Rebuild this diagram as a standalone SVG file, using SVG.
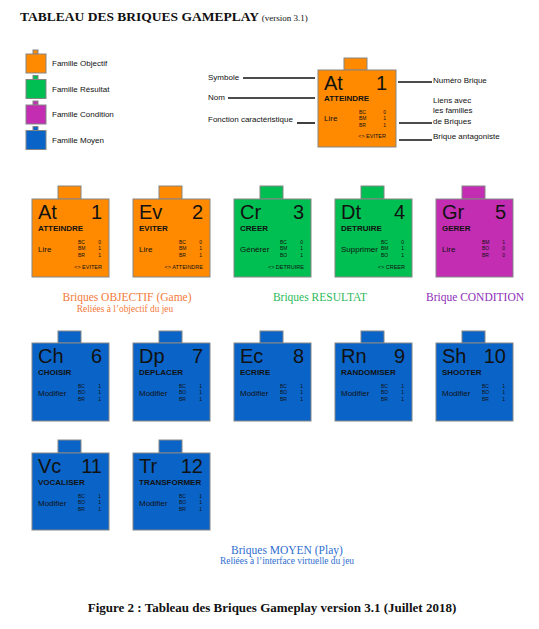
<svg xmlns="http://www.w3.org/2000/svg" width="539" height="629" viewBox="0 0 539 629">
<style>
.o{fill:#FF8A00}.g{fill:#00BF52}.m{fill:#C22DB2}.b{fill:#0A64C8}
.bd{stroke:#858585;stroke-width:1}
text{font-family:"Liberation Sans",Arial,sans-serif;fill:#111}
.sym{font-size:20px}
.num{font-size:20px;text-anchor:end}
.name{font-size:8px;font-weight:bold}
.fn{font-size:8px}
.lk{font-size:5px}
.lv{font-size:5px;text-anchor:end}
.ant{font-size:5.5px;text-anchor:end}
.leg{font-size:8px}
.lab{font-size:8px}
.ser{font-family:"Liberation Serif","Times New Roman",serif}
.ln{stroke:#111;stroke-width:1.6}
</style>
<rect width="539" height="629" fill="#fff"/>
<text class="ser" x="20" y="21" font-size="13.5" font-weight="bold">TABLEAU DES BRIQUES GAMEPLAY <tspan font-size="9" font-weight="normal">(version 3.1)</tspan></text>

<g id="legend">
<g id="leg-objectif"><rect class="o bd" x="33" y="50" width="5" height="4"/><rect class="o bd" x="26" y="54" width="20" height="19"/><text class="leg" x="52" y="66">Famille Objectif</text></g>
<g id="leg-resultat"><rect class="g bd" x="33" y="75.5" width="5" height="4"/><rect class="g bd" x="26" y="79.5" width="20" height="19"/><text class="leg" x="52" y="91.5">Famille Résultat</text></g>
<g id="leg-condition"><rect class="m bd" x="33" y="101" width="5" height="4"/><rect class="m bd" x="26" y="105" width="20" height="19"/><text class="leg" x="52" y="117">Famille Condition</text></g>
<g id="leg-moyen"><rect class="b bd" x="33" y="126.5" width="5" height="4"/><rect class="b bd" x="26" y="130.5" width="20" height="19"/><text class="leg" x="52" y="142.5">Famille Moyen</text></g>
</g>

<g id="example" transform="translate(318,70)">
<rect class="o bd" x="26" y="-12" width="23" height="12"/>
<rect class="o bd" x="0" y="0" width="78" height="77"/>
<text class="sym" x="6" y="20">At</text><text class="num" x="69" y="20">1</text>
<text class="name" x="6" y="31">ATTEINDRE</text>
<text class="fn" x="6" y="51">Lire</text>
<text class="lk" x="41" y="44">BC</text><text class="lk" x="41" y="50">BM</text><text class="lk" x="41" y="57">BR</text>
<text class="lv" x="68" y="44">0</text><text class="lv" x="68" y="50">1</text><text class="lv" x="68" y="57">1</text>
<text class="ant" x="68" y="68">&lt;&gt; EVITER</text>
</g>

<g id="connectors">
<line class="ln" x1="243" y1="78" x2="315" y2="78"/>
<line class="ln" x1="228" y1="98" x2="315" y2="98"/>
<line class="ln" x1="297" y1="123" x2="315" y2="123"/>
<line class="ln" x1="398" y1="82" x2="432" y2="82"/>
<line class="ln" x1="399" y1="123" x2="432" y2="123"/>
<line class="ln" x1="399" y1="140" x2="432" y2="140"/>
</g>
<g id="example-labels">
<text class="lab" x="208" y="80">Symbole</text>
<text class="lab" x="208" y="100">Nom</text>
<text class="lab" x="208" y="122">Fonction caractéristique</text>
<text class="lab" x="433" y="83">Numéro Brique</text>
<text class="lab" x="433" y="102.5">Liens avec</text>
<text class="lab" x="433" y="113">les familles</text>
<text class="lab" x="433" y="123.5">de Briques</text>
<text class="lab" x="433" y="139">Brique antagoniste</text>
</g>

<g id="brick-at" transform="translate(32,199)">
<rect class="o bd" x="26" y="-13" width="23" height="13"/><rect class="o bd" x="0" y="0" width="77" height="78"/>
<text class="sym" x="6" y="20">At</text><text class="num" x="70" y="20">1</text>
<text class="name" x="6" y="32">ATTEINDRE</text><text class="fn" x="6" y="53">Lire</text>
<text class="lk" x="46" y="45">BC</text><text class="lk" x="46" y="51">BM</text><text class="lk" x="46" y="58">BR</text>
<text class="lv" x="69" y="45">0</text><text class="lv" x="69" y="51">1</text><text class="lv" x="69" y="58">1</text>
<text class="ant" x="70" y="70">&lt;&gt; EVITER</text>
</g>
<g id="brick-ev" transform="translate(133,199)">
<rect class="o bd" x="26" y="-13" width="23" height="13"/><rect class="o bd" x="0" y="0" width="77" height="78"/>
<text class="sym" x="6" y="20">Ev</text><text class="num" x="70" y="20">2</text>
<text class="name" x="6" y="32">EVITER</text><text class="fn" x="6" y="53">Lire</text>
<text class="lk" x="46" y="45">BC</text><text class="lk" x="46" y="51">BM</text><text class="lk" x="46" y="58">BR</text>
<text class="lv" x="69" y="45">0</text><text class="lv" x="69" y="51">1</text><text class="lv" x="69" y="58">1</text>
<text class="ant" x="70" y="70">&lt;&gt; ATTEINDRE</text>
</g>
<g id="brick-cr" transform="translate(234,199)">
<rect class="g bd" x="26" y="-13" width="23" height="13"/><rect class="g bd" x="0" y="0" width="77" height="78"/>
<text class="sym" x="6" y="20">Cr</text><text class="num" x="70" y="20">3</text>
<text class="name" x="6" y="32">CREER</text><text class="fn" x="6" y="53">Générer</text>
<text class="lk" x="46" y="45">BC</text><text class="lk" x="46" y="51">BM</text><text class="lk" x="46" y="58">BO</text>
<text class="lv" x="69" y="45">0</text><text class="lv" x="69" y="51">1</text><text class="lv" x="69" y="58">1</text>
<text class="ant" x="70" y="70">&lt;&gt; DETRUIRE</text>
</g>
<g id="brick-dt" transform="translate(335,199)">
<rect class="g bd" x="26" y="-13" width="23" height="13"/><rect class="g bd" x="0" y="0" width="77" height="78"/>
<text class="sym" x="6" y="20">Dt</text><text class="num" x="70" y="20">4</text>
<text class="name" x="6" y="32">DETRUIRE</text><text class="fn" x="6" y="53">Supprimer</text>
<text class="lk" x="46" y="45">BC</text><text class="lk" x="46" y="51">BM</text><text class="lk" x="46" y="58">BO</text>
<text class="lv" x="69" y="45">0</text><text class="lv" x="69" y="51">1</text><text class="lv" x="69" y="58">1</text>
<text class="ant" x="70" y="70">&lt;&gt; CREER</text>
</g>
<g id="brick-gr" transform="translate(436,199)">
<rect class="m bd" x="26" y="-13" width="23" height="13"/><rect class="m bd" x="0" y="0" width="77" height="78"/>
<text class="sym" x="6" y="20">Gr</text><text class="num" x="70" y="20">5</text>
<text class="name" x="6" y="32">GERER</text><text class="fn" x="6" y="53">Lire</text>
<text class="lk" x="46" y="45">BM</text><text class="lk" x="46" y="51">BO</text><text class="lk" x="46" y="58">BR</text>
<text class="lv" x="69" y="45">1</text><text class="lv" x="69" y="51">0</text><text class="lv" x="69" y="58">0</text>
</g>

<g id="cap-objectif" class="ser">
<text class="ser" x="127" y="301" font-size="11.5" text-anchor="middle" style="fill:#F47A3A">Briques OBJECTIF (Game)</text>
<text class="ser" x="125" y="312" font-size="9.4" text-anchor="middle" style="fill:#F47A3A">Reliées à l’objectif du jeu</text>
</g>
<text id="cap-resultat" class="ser" x="320" y="301" font-size="11.5" text-anchor="middle" style="fill:#2DBA5A">Briques RESULTAT</text>
<text id="cap-condition" class="ser" x="475" y="301" font-size="11.5" text-anchor="middle" style="fill:#8E2DB8">Brique CONDITION</text>

<g id="brick-ch" transform="translate(32,343)">
<rect class="b bd" x="26" y="-12" width="23" height="12"/><rect class="b bd" x="0" y="0" width="77" height="78"/>
<text class="sym" x="6" y="20">Ch</text><text class="num" x="70" y="20">6</text>
<text class="name" x="6" y="32">CHOISIR</text><text class="fn" x="6" y="53">Modifier</text>
<text class="lk" x="46" y="45">BC</text><text class="lk" x="46" y="51">BO</text><text class="lk" x="46" y="58">BR</text>
<text class="lv" x="69" y="45">1</text><text class="lv" x="69" y="51">1</text><text class="lv" x="69" y="58">1</text>
</g>
<g id="brick-dp" transform="translate(133,343)">
<rect class="b bd" x="26" y="-12" width="23" height="12"/><rect class="b bd" x="0" y="0" width="77" height="78"/>
<text class="sym" x="6" y="20">Dp</text><text class="num" x="70" y="20">7</text>
<text class="name" x="6" y="32">DEPLACER</text><text class="fn" x="6" y="53">Modifier</text>
<text class="lk" x="46" y="45">BC</text><text class="lk" x="46" y="51">BO</text><text class="lk" x="46" y="58">BR</text>
<text class="lv" x="69" y="45">1</text><text class="lv" x="69" y="51">1</text><text class="lv" x="69" y="58">1</text>
</g>
<g id="brick-ec" transform="translate(234,343)">
<rect class="b bd" x="26" y="-12" width="23" height="12"/><rect class="b bd" x="0" y="0" width="77" height="78"/>
<text class="sym" x="6" y="20">Ec</text><text class="num" x="70" y="20">8</text>
<text class="name" x="6" y="32">ECRIRE</text><text class="fn" x="6" y="53">Modifier</text>
<text class="lk" x="46" y="45">BC</text><text class="lk" x="46" y="51">BO</text><text class="lk" x="46" y="58">BR</text>
<text class="lv" x="69" y="45">1</text><text class="lv" x="69" y="51">1</text><text class="lv" x="69" y="58">1</text>
</g>
<g id="brick-rn" transform="translate(335,343)">
<rect class="b bd" x="26" y="-12" width="23" height="12"/><rect class="b bd" x="0" y="0" width="77" height="78"/>
<text class="sym" x="6" y="20">Rn</text><text class="num" x="70" y="20">9</text>
<text class="name" x="6" y="32">RANDOMISER</text><text class="fn" x="6" y="53">Modifier</text>
<text class="lk" x="46" y="45">BC</text><text class="lk" x="46" y="51">BO</text><text class="lk" x="46" y="58">BR</text>
<text class="lv" x="69" y="45">1</text><text class="lv" x="69" y="51">1</text><text class="lv" x="69" y="58">1</text>
</g>
<g id="brick-sh" transform="translate(436,343)">
<rect class="b bd" x="26" y="-12" width="23" height="12"/><rect class="b bd" x="0" y="0" width="77" height="78"/>
<text class="sym" x="6" y="20">Sh</text><text class="num" x="70" y="20">10</text>
<text class="name" x="6" y="32">SHOOTER</text><text class="fn" x="6" y="53">Modifier</text>
<text class="lk" x="46" y="45">BC</text><text class="lk" x="46" y="51">BO</text><text class="lk" x="46" y="58">BR</text>
<text class="lv" x="69" y="45">1</text><text class="lv" x="69" y="51">1</text><text class="lv" x="69" y="58">1</text>
</g>
<g id="brick-vc" transform="translate(32,453)">
<rect class="b bd" x="26" y="-13" width="23" height="13"/><rect class="b bd" x="0" y="0" width="77" height="77"/>
<text class="sym" x="6" y="20">Vc</text><text class="num" x="70" y="20">11</text>
<text class="name" x="6" y="32">VOCALISER</text><text class="fn" x="6" y="53">Modifier</text>
<text class="lk" x="46" y="45">BC</text><text class="lk" x="46" y="51">BO</text><text class="lk" x="46" y="58">BR</text>
<text class="lv" x="69" y="45">1</text><text class="lv" x="69" y="51">1</text><text class="lv" x="69" y="58">1</text>
</g>
<g id="brick-tr" transform="translate(133,453)">
<rect class="b bd" x="26" y="-13" width="23" height="13"/><rect class="b bd" x="0" y="0" width="77" height="77"/>
<text class="sym" x="6" y="20">Tr</text><text class="num" x="70" y="20">12</text>
<text class="name" x="6" y="32">TRANSFORMER</text><text class="fn" x="6" y="53">Modifier</text>
<text class="lk" x="46" y="45">BC</text><text class="lk" x="46" y="51">BO</text><text class="lk" x="46" y="58">BR</text>
<text class="lv" x="69" y="45">1</text><text class="lv" x="69" y="51">1</text><text class="lv" x="69" y="58">1</text>
</g>

<g id="cap-moyen">
<text class="ser" x="287" y="554" font-size="11.5" text-anchor="middle" style="fill:#2F6FD0">Briques MOYEN (Play)</text>
<text class="ser" x="287" y="564" font-size="9.4" text-anchor="middle" style="fill:#2F6FD0">Reliées à l’interface virtuelle du jeu</text>
</g>
<text id="figure-caption" class="ser" x="272" y="612" font-size="13" font-weight="bold" text-anchor="middle">Figure 2 : Tableau des Briques Gameplay version 3.1 (Juillet 2018)</text>
</svg>
